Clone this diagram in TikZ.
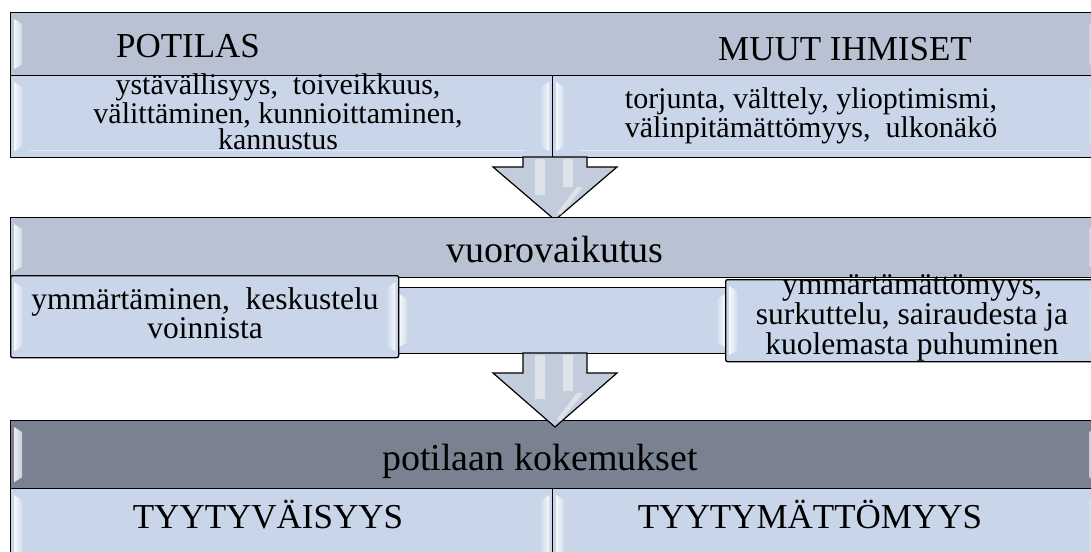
\documentclass[tikz,border=0pt]{standalone}
\usepackage{fontspec}
\setmainfont{Liberation Serif}
\usetikzlibrary{calc}
\definecolor{hdr}{HTML}{B8C2D2}
\definecolor{subfill}{HTML}{C9D6E9}
\definecolor{darkhdr}{HTML}{7A8292}
\definecolor{arrowfill}{HTML}{C3CCDA}
% white bevel strips at both ends of a box
\newcommand{\bevelends}[1]{%
  \shade[left color=white, right color=white!20!subfill, opacity=0.85]
    ($(#1.north west)+(4pt,-7pt)$) -- ($(#1.north west)+(12pt,-12pt)$) --
    ($(#1.south west)+(12pt,12pt)$) -- ($(#1.south west)+(4pt,7pt)$) -- cycle;
  \shade[left color=white!20!subfill, right color=white, opacity=0.85]
    ($(#1.north east)+(-4pt,-7pt)$) -- ($(#1.north east)+(-12pt,-12pt)$) --
    ($(#1.south east)+(-12pt,12pt)$) -- ($(#1.south east)+(-4pt,7pt)$) -- cycle;
}
\begin{document}
\begin{tikzpicture}[x=1pt,y=-1pt,
  boxline/.style={draw=black,line width=1.3pt},
  hdrbox/.style={boxline,fill=hdr,rectangle,anchor=north west,inner sep=0pt},
  subbox/.style={boxline,fill=subfill,rectangle,anchor=north west,inner sep=0pt},
  darkbox/.style={boxline,fill=darkhdr,rectangle,anchor=north west,inner sep=0pt},
  arrowshape/.style={draw=black,line width=1.2pt,fill=arrowfill,line join=miter},
  shine/.style={fill=white,opacity=0.45},
  hfont/.style={font=\fontsize{35}{35}\selectfont,anchor=base,inner sep=0pt},
  bigfont/.style={font=\fontsize{38}{38}\selectfont,anchor=base,inner sep=0pt},
  bfont/.style={font=\fontsize{30}{26}\selectfont,align=center,anchor=base,inner sep=0pt},
  mfont/.style={font=\fontsize{31.5}{25.5}\selectfont,align=center,anchor=base,inner sep=0pt},
]
\useasboundingbox (0,0) rectangle (1091,551);
\clip (0,0) rectangle (1091,551);

% ---------- top block ----------
\node[hdrbox, minimum width=1090pt, minimum height=63pt] (tophdr) at (10,12) {};
\node[subbox, minimum width=542pt, minimum height=82pt] (topleft) at (10,75) {};
\node[subbox, minimum width=548pt, minimum height=82pt] (topright) at (552,75) {};
\bevelends{tophdr}
\bevelends{topleft}
\bevelends{topright}
\draw[white, opacity=0.5, line width=1pt] ($(topright.south west)+(28pt,8pt)$) -- ($(topright.south east)+(-20pt,8pt)$);
\draw[white, opacity=0.5, line width=1pt] ($(topleft.south west)+(20pt,8pt)$) -- ($(topleft.south east)+(-28pt,8pt)$);

\node[hfont] (potilas) at (188,58) {POTILAS};
\node[hfont] (muut) at (845,60) {MUUT IHMISET};
% multi-line texts: the base anchor sits on the last line
\node[bfont] (plus1) at (278,149) {ystävällisyys,\ \ toiveikkuus,\\välittäminen, kunnioittaminen,\\kannustus};
\node[bfont] (minus1) at (811,137) {torjunta, välttely, ylioptimismi,\\välinpitämättömyys,\ \ ulkonäkö};

% ---------- arrow 1 ----------
\coordinate (a1) at (523,157);
\draw[arrowshape] (a1) -- ++(0,10) -- ++(-30,0) -- ++(62,53) -- ++(62,-53) -- ++(-30,0) -- ++(0,-10) -- cycle;
\fill[shine] ($(a1)+(12,2)$) rectangle ($(a1)+(22,38)$);
\fill[shine] ($(a1)+(40,2)$) rectangle ($(a1)+(50,30)$);
\fill[shine] ($(a1)+(54,30)$) -- ($(a1)+(60,30)$) -- ($(a1)+(38,58)$) -- ($(a1)+(34,56)$) -- cycle;

% ---------- middle block ----------
\node[hdrbox, minimum width=1090pt, minimum height=60pt] (midhdr) at (10,217) {};
\bevelends{midhdr}
\node[subbox, minimum width=333pt, minimum height=66pt] (midcenter) at (395,287) {};
\bevelends{midcenter}
\node[subbox, rounded corners=2pt, minimum width=388pt, minimum height=82pt] (midleft) at (10,275) {};
\bevelends{midleft}
\node[subbox, rounded corners=2pt, minimum width=375pt, minimum height=82pt] (midright) at (725,279) {};
\bevelends{midright}

\node[bigfont] (vuoro) at (555,262) {vuorovaikutus};
\node[mfont] (plus2) at (205,338) {ymmärtäminen,\ \ keskustelu\\voinnista};
\node[mfont] (minus2) at (912,354) {ymmärtämättömyys,\\surkuttelu, sairaudesta ja\\kuolemasta puhuminen};

% ---------- bottom block ----------
\node[darkbox, minimum width=1090pt, minimum height=68pt] (bothdr) at (10,420) {};
\node[subbox, minimum width=542pt, minimum height=80pt] (botleft) at (10,488) {};
\node[subbox, minimum width=548pt, minimum height=80pt] (botright) at (552,488) {};
\bevelends{bothdr}
\bevelends{botleft}
\bevelends{botright}

\node[bigfont] (kokemukset) at (540,470) {potilaan kokemukset};
\node[hfont] (tyyt) at (268,528) {TYYTYVÄISYYS};
\node[hfont] (tyytym) at (810,528) {TYYTYMÄTTÖMYYS};

% ---------- arrow 2 ----------
\coordinate (a2) at (523,353);
\draw[arrowshape] (a2) -- ++(0,20) -- ++(-30,0) -- ++(62,54) -- ++(62,-54) -- ++(-30,0) -- ++(0,-20) -- cycle;
\fill[shine] ($(a2)+(12,2)$) rectangle ($(a2)+(22,46)$);
\fill[shine] ($(a2)+(40,2)$) rectangle ($(a2)+(50,38)$);
\fill[shine] ($(a2)+(54,40)$) -- ($(a2)+(60,40)$) -- ($(a2)+(38,68)$) -- ($(a2)+(34,66)$) -- cycle;
\end{tikzpicture}
\end{document}
